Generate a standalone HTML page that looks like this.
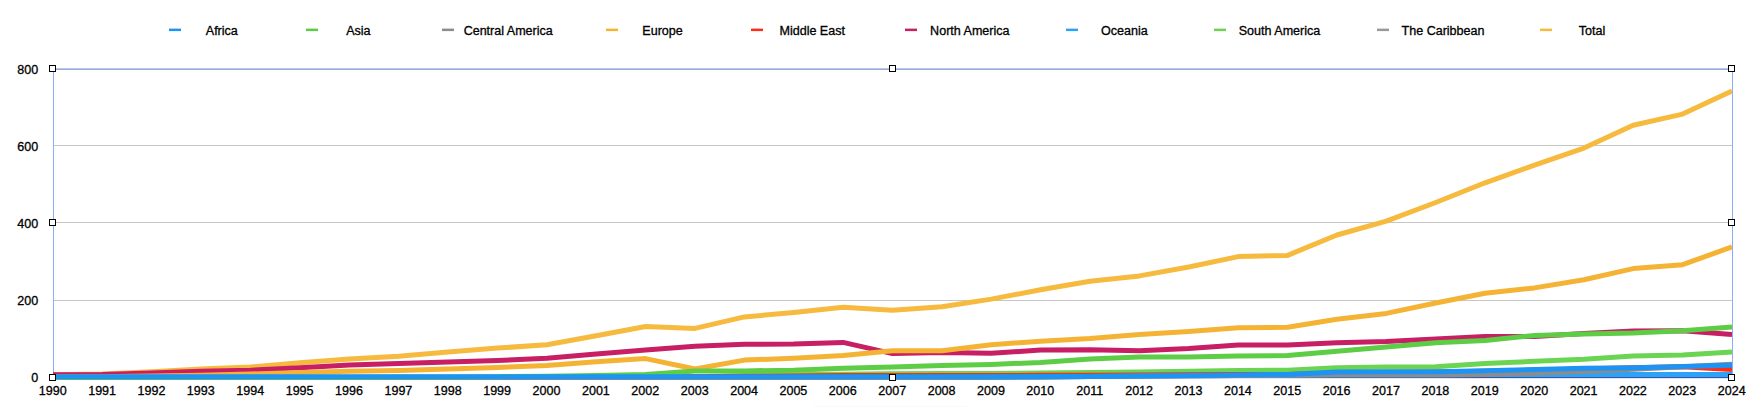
<!DOCTYPE html>
<html><head><meta charset="utf-8"><title>Chart</title>
<style>
html,body{margin:0;padding:0;background:#fff;}
body{width:1755px;height:407px;overflow:hidden;}
svg{display:block;}
text{font-family:"Liberation Sans","Helvetica Neue",Helvetica,Arial,sans-serif;font-size:12.3px;fill:#000;stroke:#000;stroke-width:0.3px;}
</style></head><body>
<svg width="1755" height="407" viewBox="0 0 1755 407">
<rect width="1755" height="407" fill="#fff"/>
<defs><clipPath id="plot"><rect x="53.0" y="60" width="1679.0" height="325"/></clipPath></defs>

<g stroke="#C6C6C6" stroke-width="1" shape-rendering="crispEdges">
<line x1="53.0" y1="300.5" x2="1732.0" y2="300.5"/>
<line x1="53.0" y1="222.5" x2="1732.0" y2="222.5"/>
<line x1="53.0" y1="145.5" x2="1732.0" y2="145.5"/>
<line x1="53.0" y1="68.5" x2="1732.0" y2="68.5"/>
</g>
<rect x="53.5" y="69.5" width="1679.0" height="308.0" fill="none" stroke="#8CACF8" stroke-width="1" shape-rendering="crispEdges"/>
<line x1="53.0" y1="377.65" x2="1732.0" y2="377.65" stroke="#2C4798" stroke-width="1"/>
<g clip-path="url(#plot)" fill="none" stroke-linejoin="round" stroke-linecap="butt">
<polyline points="53.0,374.8 102.4,374.0 151.8,371.7 201.1,369.0 250.5,367.1 299.9,362.8 349.3,359.0 398.7,356.3 448.1,352.0 497.4,348.1 546.8,344.7 596.2,335.8 645.6,326.5 695.0,328.4 744.4,316.9 793.7,312.6 843.1,307.2 892.5,310.3 941.9,306.8 991.3,299.1 1040.6,289.8 1090.0,281.3 1139.4,275.9 1188.8,267.0 1238.2,256.6 1287.6,255.4 1336.9,235.0 1386.3,221.1 1435.7,202.5 1485.1,182.8 1534.5,165.1 1583.9,148.1 1633.2,125.3 1682.6,114.1 1732.0,90.9" stroke="#F6BA3E" stroke-width="5.0"/>
<polyline points="53.0,377.5 102.4,377.5 151.8,377.5 201.1,377.5 250.5,377.5 299.9,377.5 349.3,377.5 398.7,377.5 448.1,377.5 497.4,377.5 546.8,377.5 596.2,377.5 645.6,377.5 695.0,377.5 744.4,377.5 793.7,377.5 843.1,377.5 892.5,377.5 941.9,377.5 991.3,377.3 1040.6,376.9 1090.0,376.5 1139.4,376.1 1188.8,375.8 1238.2,375.4 1287.6,375.0 1336.9,374.8 1386.3,374.8 1435.7,374.8 1485.1,374.6 1534.5,374.6 1583.9,374.6 1633.2,374.6 1682.6,374.6 1732.0,374.6" stroke="#999999" stroke-width="5.0"/>
<polyline points="53.0,377.5 102.4,377.5 151.8,377.5 201.1,377.5 250.5,377.5 299.9,377.5 349.3,377.5 398.7,377.5 448.1,377.5 497.4,377.5 546.8,377.5 596.2,377.5 645.6,377.1 695.0,376.7 744.4,375.6 793.7,374.8 843.1,374.2 892.5,373.8 941.9,373.6 991.3,373.4 1040.6,373.1 1090.0,372.5 1139.4,371.9 1188.8,371.3 1238.2,370.5 1287.6,370.2 1336.9,367.8 1386.3,367.1 1435.7,366.7 1485.1,363.6 1534.5,361.3 1583.9,359.3 1633.2,355.9 1682.6,355.1 1732.0,352.0" stroke="#6BD553" stroke-width="5.0"/>
<polyline points="53.0,377.5 102.4,377.5 151.8,377.5 201.1,377.5 250.5,377.5 299.9,377.5 349.3,377.5 398.7,377.5 448.1,377.5 497.4,377.5 546.8,377.5 596.2,377.5 645.6,377.5 695.0,377.5 744.4,377.5 793.7,377.5 843.1,377.5 892.5,377.5 941.9,377.5 991.3,377.3 1040.6,376.9 1090.0,376.5 1139.4,376.1 1188.8,375.8 1238.2,375.4 1287.6,375.0 1336.9,374.8 1386.3,374.8 1435.7,374.8 1485.1,374.6 1534.5,374.6 1583.9,374.6 1633.2,374.6 1682.6,374.6 1732.0,374.6" stroke="#2DA3F7" stroke-width="5.0"/>
<polyline points="53.0,374.8 102.4,374.4 151.8,372.9 201.1,371.3 250.5,370.2 299.9,367.8 349.3,365.1 398.7,363.6 448.1,362.1 497.4,360.5 546.8,358.2 596.2,353.9 645.6,350.1 695.0,346.2 744.4,344.3 793.7,343.9 843.1,342.4 892.5,353.6 941.9,352.4 991.3,353.2 1040.6,350.1 1090.0,349.7 1139.4,350.8 1188.8,348.5 1238.2,345.1 1287.6,345.1 1336.9,342.7 1386.3,341.6 1435.7,338.9 1485.1,336.6 1534.5,336.6 1583.9,333.5 1633.2,331.1 1682.6,330.8 1732.0,334.6" stroke="#C81E64" stroke-width="5.0"/>
<polyline points="53.0,377.5 102.4,377.5 151.8,377.5 201.1,377.5 250.5,377.5 299.9,377.5 349.3,377.5 398.7,377.5 448.1,377.5 497.4,377.5 546.8,377.5 596.2,377.5 645.6,377.1 695.0,376.7 744.4,376.3 793.7,376.0 843.1,375.6 892.5,375.6 941.9,375.6 991.3,375.5 1040.6,375.3 1090.0,375.2 1139.4,375.0 1188.8,374.8 1238.2,374.6 1287.6,374.4 1336.9,372.9 1386.3,372.5 1435.7,372.1 1485.1,371.3 1534.5,370.2 1583.9,369.0 1633.2,367.8 1682.6,366.7 1732.0,369.6" stroke="#FF2D16" stroke-width="5.0"/>
<polyline points="53.0,377.1 102.4,376.7 151.8,376.0 201.1,375.2 250.5,374.0 299.9,372.5 349.3,371.3 398.7,370.5 448.1,369.0 497.4,367.5 546.8,365.5 596.2,361.7 645.6,358.6 695.0,369.0 744.4,360.1 793.7,358.2 843.1,355.5 892.5,350.8 941.9,350.8 991.3,344.7 1040.6,341.2 1090.0,338.5 1139.4,334.6 1188.8,331.5 1238.2,327.7 1287.6,327.3 1336.9,319.2 1386.3,313.4 1435.7,303.0 1485.1,293.3 1534.5,287.9 1583.9,279.8 1633.2,268.6 1682.6,264.7 1732.0,246.9" stroke="#F5B335" stroke-width="5.0"/>
<polyline points="53.0,377.5 102.4,377.5 151.8,377.5 201.1,377.5 250.5,377.5 299.9,377.5 349.3,377.5 398.7,377.5 448.1,377.5 497.4,377.5 546.8,377.5 596.2,377.5 645.6,377.5 695.0,377.5 744.4,377.5 793.7,377.5 843.1,377.5 892.5,377.5 941.9,377.5 991.3,377.3 1040.6,376.9 1090.0,376.5 1139.4,376.1 1188.8,375.8 1238.2,375.4 1287.6,375.0 1336.9,374.6 1386.3,374.6 1435.7,374.6 1485.1,374.4 1534.5,373.1 1583.9,371.5 1633.2,369.2 1682.6,366.7 1732.0,364.2" stroke="#8C8C8C" stroke-width="5.0"/>
<polyline points="53.0,377.2 102.4,377.2 151.8,377.2 201.1,377.2 250.5,377.2 299.9,377.2 349.3,377.2 398.7,377.1 448.1,377.0 497.4,376.7 546.8,376.3 596.2,375.6 645.6,374.4 695.0,370.9 744.4,370.9 793.7,370.2 843.1,368.2 892.5,367.1 941.9,365.5 991.3,364.4 1040.6,362.4 1090.0,359.0 1139.4,357.0 1188.8,357.0 1238.2,355.9 1287.6,355.5 1336.9,351.2 1386.3,347.0 1435.7,342.7 1485.1,340.4 1534.5,335.4 1583.9,333.9 1633.2,333.1 1682.6,330.8 1732.0,326.9" stroke="#5DCD46" stroke-width="5.0"/>
<polyline points="53.0,376.7 102.4,376.7 151.8,376.7 201.1,376.7 250.5,376.7 299.9,376.7 349.3,376.7 398.7,376.7 448.1,376.7 497.4,376.7 546.8,376.7 596.2,376.7 645.6,376.7 695.0,376.7 744.4,376.7 793.7,376.7 843.1,376.7 892.5,376.7 941.9,376.7 991.3,376.7 1040.6,376.6 1090.0,376.4 1139.4,376.1 1188.8,375.6 1238.2,375.0 1287.6,374.4 1336.9,372.1 1386.3,371.7 1435.7,371.7 1485.1,370.7 1534.5,369.6 1583.9,368.2 1633.2,367.7 1682.6,366.5 1732.0,365.3" stroke="#1D93F4" stroke-width="5.0"/>
</g>
<g fill="#fff" stroke="#000" stroke-width="1" shape-rendering="crispEdges">
<rect x="49.5" y="65.5" width="6" height="6"/>
<rect x="49.5" y="219.5" width="6" height="6"/>
<rect x="49.5" y="374.5" width="6" height="6"/>
<rect x="889.5" y="65.5" width="6" height="6"/>
<rect x="889.5" y="374.5" width="6" height="6"/>
<rect x="1728.5" y="65.5" width="6" height="6"/>
<rect x="1728.5" y="219.5" width="6" height="6"/>
<rect x="1728.5" y="374.5" width="6" height="6"/>
</g>
<text transform="translate(38.1,381.9) scale(1.02,1)" text-anchor="end">0</text>
<text transform="translate(38.1,305.0) scale(1.02,1)" text-anchor="end">200</text>
<text transform="translate(38.1,228.0) scale(1.02,1)" text-anchor="end">400</text>
<text transform="translate(38.1,151.0) scale(1.02,1)" text-anchor="end">600</text>
<text transform="translate(38.1,74.0) scale(1.02,1)" text-anchor="end">800</text>
<text transform="translate(52.7,395.2) scale(1.02,1)" text-anchor="middle">1990</text>
<text transform="translate(102.1,395.2) scale(1.02,1)" text-anchor="middle">1991</text>
<text transform="translate(151.5,395.2) scale(1.02,1)" text-anchor="middle">1992</text>
<text transform="translate(200.8,395.2) scale(1.02,1)" text-anchor="middle">1993</text>
<text transform="translate(250.2,395.2) scale(1.02,1)" text-anchor="middle">1994</text>
<text transform="translate(299.6,395.2) scale(1.02,1)" text-anchor="middle">1995</text>
<text transform="translate(349.0,395.2) scale(1.02,1)" text-anchor="middle">1996</text>
<text transform="translate(398.4,395.2) scale(1.02,1)" text-anchor="middle">1997</text>
<text transform="translate(447.8,395.2) scale(1.02,1)" text-anchor="middle">1998</text>
<text transform="translate(497.1,395.2) scale(1.02,1)" text-anchor="middle">1999</text>
<text transform="translate(546.5,395.2) scale(1.02,1)" text-anchor="middle">2000</text>
<text transform="translate(595.9,395.2) scale(1.02,1)" text-anchor="middle">2001</text>
<text transform="translate(645.3,395.2) scale(1.02,1)" text-anchor="middle">2002</text>
<text transform="translate(694.7,395.2) scale(1.02,1)" text-anchor="middle">2003</text>
<text transform="translate(744.1,395.2) scale(1.02,1)" text-anchor="middle">2004</text>
<text transform="translate(793.4,395.2) scale(1.02,1)" text-anchor="middle">2005</text>
<text transform="translate(842.8,395.2) scale(1.02,1)" text-anchor="middle">2006</text>
<text transform="translate(892.2,395.2) scale(1.02,1)" text-anchor="middle">2007</text>
<text transform="translate(941.6,395.2) scale(1.02,1)" text-anchor="middle">2008</text>
<text transform="translate(991.0,395.2) scale(1.02,1)" text-anchor="middle">2009</text>
<text transform="translate(1040.3,395.2) scale(1.02,1)" text-anchor="middle">2010</text>
<text transform="translate(1089.7,395.2) scale(1.02,1)" text-anchor="middle">2011</text>
<text transform="translate(1139.1,395.2) scale(1.02,1)" text-anchor="middle">2012</text>
<text transform="translate(1188.5,395.2) scale(1.02,1)" text-anchor="middle">2013</text>
<text transform="translate(1237.9,395.2) scale(1.02,1)" text-anchor="middle">2014</text>
<text transform="translate(1287.3,395.2) scale(1.02,1)" text-anchor="middle">2015</text>
<text transform="translate(1336.6,395.2) scale(1.02,1)" text-anchor="middle">2016</text>
<text transform="translate(1386.0,395.2) scale(1.02,1)" text-anchor="middle">2017</text>
<text transform="translate(1435.4,395.2) scale(1.02,1)" text-anchor="middle">2018</text>
<text transform="translate(1484.8,395.2) scale(1.02,1)" text-anchor="middle">2019</text>
<text transform="translate(1534.2,395.2) scale(1.02,1)" text-anchor="middle">2020</text>
<text transform="translate(1583.6,395.2) scale(1.02,1)" text-anchor="middle">2021</text>
<text transform="translate(1632.9,395.2) scale(1.02,1)" text-anchor="middle">2022</text>
<text transform="translate(1682.3,395.2) scale(1.02,1)" text-anchor="middle">2023</text>
<text transform="translate(1731.7,395.2) scale(1.02,1)" text-anchor="middle">2024</text>
<rect x="169" y="28.6" width="12" height="2.5" fill="#1D93F4"/>
<text transform="translate(221.8,35.0) scale(1.02,1)" text-anchor="middle">Africa</text>
<rect x="306" y="28.6" width="12" height="2.5" fill="#5DCD46"/>
<text transform="translate(358.4,35.0) scale(1.02,1)" text-anchor="middle">Asia</text>
<rect x="442" y="28.6" width="12" height="2.5" fill="#8C8C8C"/>
<text transform="translate(508.2,35.0) scale(1.02,1)" text-anchor="middle">Central America</text>
<rect x="606" y="28.6" width="12" height="2.5" fill="#F5B335"/>
<text transform="translate(662.5,35.0) scale(1.02,1)" text-anchor="middle">Europe</text>
<rect x="751" y="28.6" width="12" height="2.5" fill="#FF2D16"/>
<text transform="translate(812.2,35.0) scale(1.02,1)" text-anchor="middle">Middle East</text>
<rect x="905" y="28.6" width="12" height="2.5" fill="#C81E64"/>
<text transform="translate(969.8,35.0) scale(1.02,1)" text-anchor="middle">North America</text>
<rect x="1066" y="28.6" width="12" height="2.5" fill="#2DA3F7"/>
<text transform="translate(1124.4,35.0) scale(1.02,1)" text-anchor="middle">Oceania</text>
<rect x="1214" y="28.6" width="12" height="2.5" fill="#6BD553"/>
<text transform="translate(1279.5,35.0) scale(1.02,1)" text-anchor="middle">South America</text>
<rect x="1377" y="28.6" width="12" height="2.5" fill="#999999"/>
<text transform="translate(1443.0,35.0) scale(1.02,1)" text-anchor="middle">The Caribbean</text>
<rect x="1540" y="28.6" width="12" height="2.5" fill="#F6BA3E"/>
<text transform="translate(1592.0,35.0) scale(1.02,1)" text-anchor="middle">Total</text>
<rect x="814" y="406" width="153" height="1" fill="#F9F9F9"/>
</svg></body></html>
